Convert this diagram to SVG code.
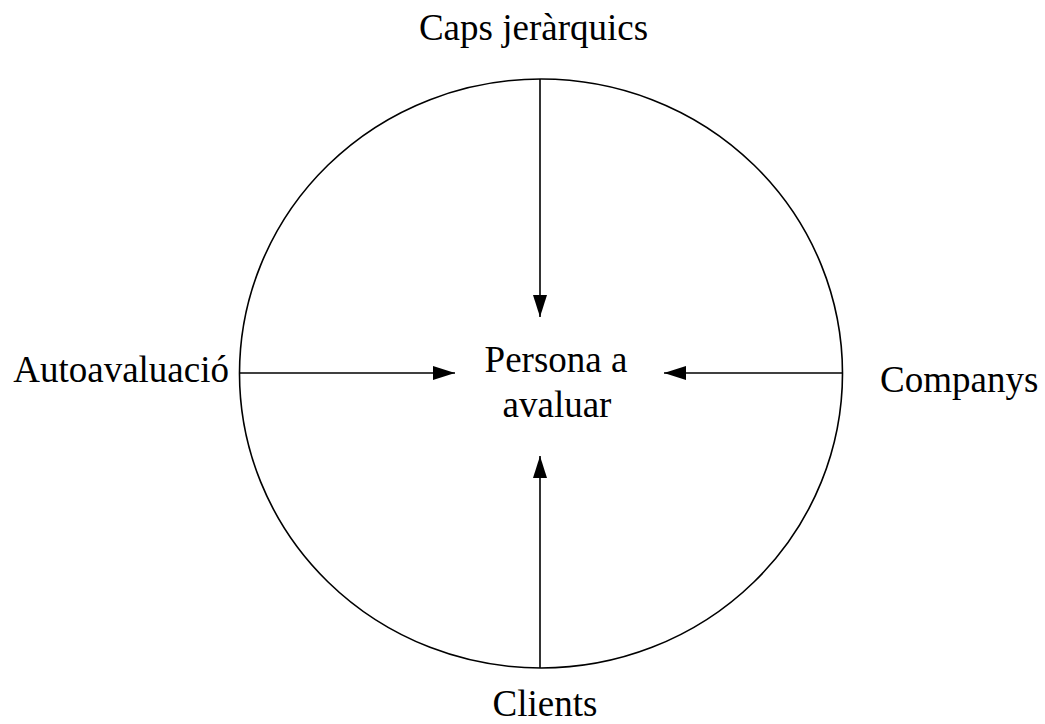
<svg xmlns="http://www.w3.org/2000/svg" width="1045" height="724" viewBox="0 0 1045 724">
<style>
text{font-family:"Liberation Serif","DejaVu Serif",serif;font-size:37px;fill:#000}
.ln{stroke:#000;stroke-width:1.6;fill:none}
</style>
<defs>
<marker id="ah" markerUnits="userSpaceOnUse" markerWidth="23" markerHeight="14" refX="22" refY="7" orient="auto">
<path d="M0,0 L22,7 L0,14 Z" fill="#000"/>
</marker>
</defs>
<rect width="1045" height="724" fill="#fff"/>
<g id="circle"><ellipse cx="541" cy="373.5" rx="301.5" ry="294.5" class="ln"/></g>
<g id="connectors">
<line x1="540" y1="79" x2="540" y2="317" class="ln" marker-end="url(#ah)"/>
<line x1="540" y1="668" x2="540" y2="456" class="ln" marker-end="url(#ah)"/>
<line x1="240" y1="373" x2="455" y2="373" class="ln" marker-end="url(#ah)"/>
<line x1="842" y1="373" x2="664" y2="373" class="ln" marker-end="url(#ah)"/>
</g>
<g id="center"><text x="556" y="372" text-anchor="middle" font-family="Liberation Serif, serif">Persona a</text><text x="557" y="417" text-anchor="middle" font-family="Liberation Serif, serif">avaluar</text></g>
<g id="caps"><text x="533.5" y="40" text-anchor="middle" font-family="Liberation Serif, serif">Caps jeràrquics</text></g>
<g id="clients"><text x="545" y="716" text-anchor="middle" font-family="Liberation Serif, serif">Clients</text></g>
<g id="auto"><text x="229" y="382" text-anchor="end" font-family="Liberation Serif, serif">Autoavaluació</text></g>
<g id="companys"><text x="880" y="392" font-family="Liberation Serif, serif">Companys</text></g>
</svg>
